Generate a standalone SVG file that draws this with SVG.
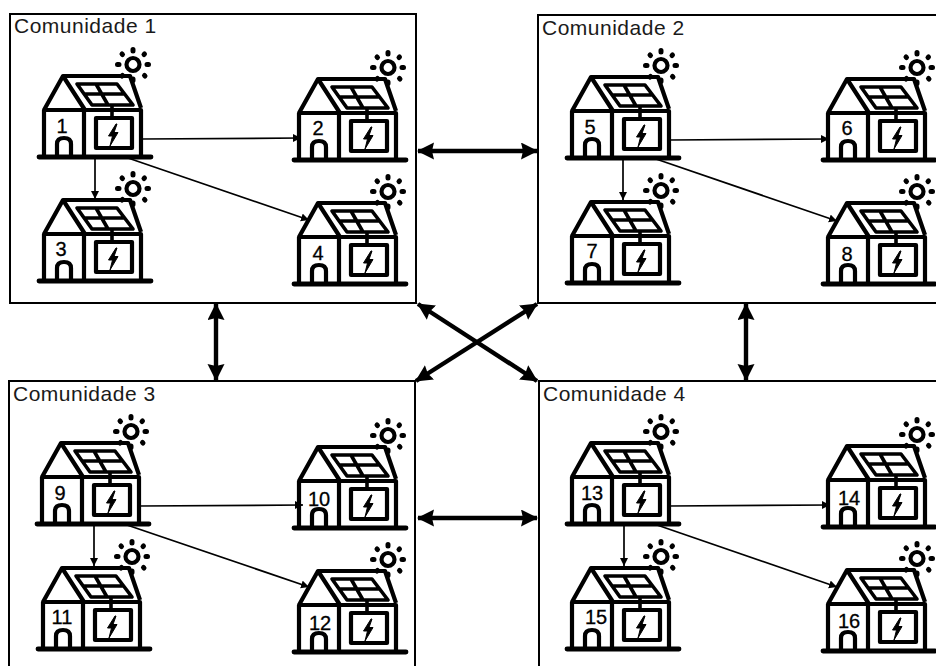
<svg xmlns="http://www.w3.org/2000/svg" xmlns:xlink="http://www.w3.org/1999/xlink" width="936" height="666" viewBox="0 0 936 666">
<style>
.bg{fill:#fff}
.com{fill:#fff;stroke:#000;stroke-width:2}
.lbl{font:21px "Liberation Sans",Arial,sans-serif;letter-spacing:.5px;fill:#1a1a1a}
.num{font:20px "Liberation Sans",Arial,sans-serif;fill:#000;stroke:#000;stroke-width:.3;text-anchor:middle}
.h{fill:none;stroke:#000;stroke-width:4.200;stroke-linejoin:round}
.p{fill:none;stroke:#000;stroke-width:3.600;stroke-linejoin:round}
.hb{fill:none;stroke:#000;stroke-width:4.800;stroke-linecap:round}
.ray{fill:none;stroke:#000;stroke-width:5;stroke-linecap:round}
.thin{stroke:#000;stroke-width:1.700;fill:none;marker-end:url(#a)}
.thick{stroke:#000;stroke-width:4.400;fill:none;marker-start:url(#b);marker-end:url(#b)}
</style>
<defs>
<marker id="a" markerUnits="userSpaceOnUse" markerWidth="9" markerHeight="9" refX="8" refY="4" orient="auto"><path d="M0 0L8 4L0 8Z" fill="#000"/></marker>
<marker id="b" markerUnits="userSpaceOnUse" markerWidth="20" markerHeight="18" refX="16" refY="8.500" orient="auto-start-reverse"><path d="M0 0L17 8.500L0 17L2 8.500Z" fill="#000"/></marker>
<symbol id="house" overflow="visible" width="1" height="1">
<path class="hb" d="M39 157H151"/>
<path class="h" d="M44 156V110H141V156M84 110V156M44 110L63 76H130L141 108M63 76L85 110"/>
<path class="p" d="M77 84H117L133 105H92ZM84 94H125M96 84L108 105M112 105V118"/>
<rect class="h" x="96" y="118" width="36" height="30"/>
<path d="M116 124L108.500 136H112.500L110 146L118 132.500H114L117 124Z" fill="#000" stroke="#000" stroke-width="1"/>
<path class="h" d="M57 155V144Q57 138 64 138Q71 138 71 144V155"/>
<circle class="h" cx="133" cy="64.500" r="6.500"/>
<path class="ray" d="M133 49.500V51M133 79V80.500M117.500 64.500H119M147 64.500H148.500M122 54L122.500 54.500M144.500 75.500L145 76M144.500 54L144 54.500M122 76L122.500 75.500"/>
</symbol>
</defs>
<rect class="bg" width="936" height="666"/>
<g id="comunidade-1"><rect class="com" x="10" y="14" width="406" height="289"/><text class="lbl" x="14" y="33">Comunidade 1</text></g>
<g id="comunidade-2"><rect class="com" x="538" y="15" width="410" height="288"/><text class="lbl" x="542" y="35">Comunidade 2</text></g>
<g id="comunidade-3"><rect class="com" x="9" y="381" width="406" height="297"/><text class="lbl" x="13" y="401">Comunidade 3</text></g>
<g id="comunidade-4"><rect class="com" x="539" y="381" width="409" height="297"/><text class="lbl" x="543" y="401">Comunidade 4</text></g>
<g id="connectors">
<path class="thin" d="M141 139L301 138"/>
<path class="thin" d="M95 158V199"/>
<path class="thin" d="M128 158L309 220"/>
<path class="thin" d="M669 140L829 139"/>
<path class="thin" d="M623 159V200"/>
<path class="thin" d="M656 159L837 221"/>
<path class="thin" d="M139 506L303 505"/>
<path class="thin" d="M94 525V566"/>
<path class="thin" d="M127 525L309 587"/>
<path class="thin" d="M669 506L830 505"/>
<path class="thin" d="M624 525V566"/>
<path class="thin" d="M657 525L837 587"/>
<path class="thick" d="M418 151H537"/>
<path class="thick" d="M418 518H537"/>
<path class="thick" d="M216 304V380"/>
<path class="thick" d="M746 304V380"/>
<path class="thick" d="M418 304L537 381"/>
<path class="thick" d="M537 304L416 381"/>
</g>
<g id="house-1"><use xlink:href="#house" href="#house"/><text class="num" x="62" y="133">1</text></g>
<g id="house-2"><use href="#house" x="255" y="3"/><text class="num" x="318" y="135">2</text></g>
<g id="house-3"><use href="#house" y="124"/><text class="num" x="61" y="256">3</text></g>
<g id="house-4"><use href="#house" x="255" y="127"/><text class="num" x="318" y="260">4</text></g>
<g id="house-5"><use href="#house" x="528" y="1"/><text class="num" x="590" y="134">5</text></g>
<g id="house-6"><use href="#house" x="784" y="3"/><text class="num" x="847" y="135">6</text></g>
<g id="house-7"><use href="#house" x="528" y="126"/><text class="num" x="592" y="258">7</text></g>
<g id="house-8"><use href="#house" x="784" y="127"/><text class="num" x="847" y="261">8</text></g>
<g id="house-9"><use href="#house" x="-2" y="367"/><text class="num" x="60" y="500">9</text></g>
<g id="house-10"><use href="#house" x="255" y="371"/><text class="num" x="319" y="506">10</text></g>
<g id="house-11"><use href="#house" x="-1" y="492"/><text class="num" x="62" y="624">11</text></g>
<g id="house-12"><use href="#house" x="255" y="495"/><text class="num" x="320" y="630">12</text></g>
<g id="house-13"><use href="#house" x="528" y="367"/><text class="num" x="592" y="500">13</text></g>
<g id="house-14"><use href="#house" x="784" y="370"/><text class="num" x="849" y="505">14</text></g>
<g id="house-15"><use href="#house" x="528" y="492"/><text class="num" x="596" y="624">15</text></g>
<g id="house-16"><use href="#house" x="784" y="494"/><text class="num" x="849" y="628">16</text></g>
</svg>
